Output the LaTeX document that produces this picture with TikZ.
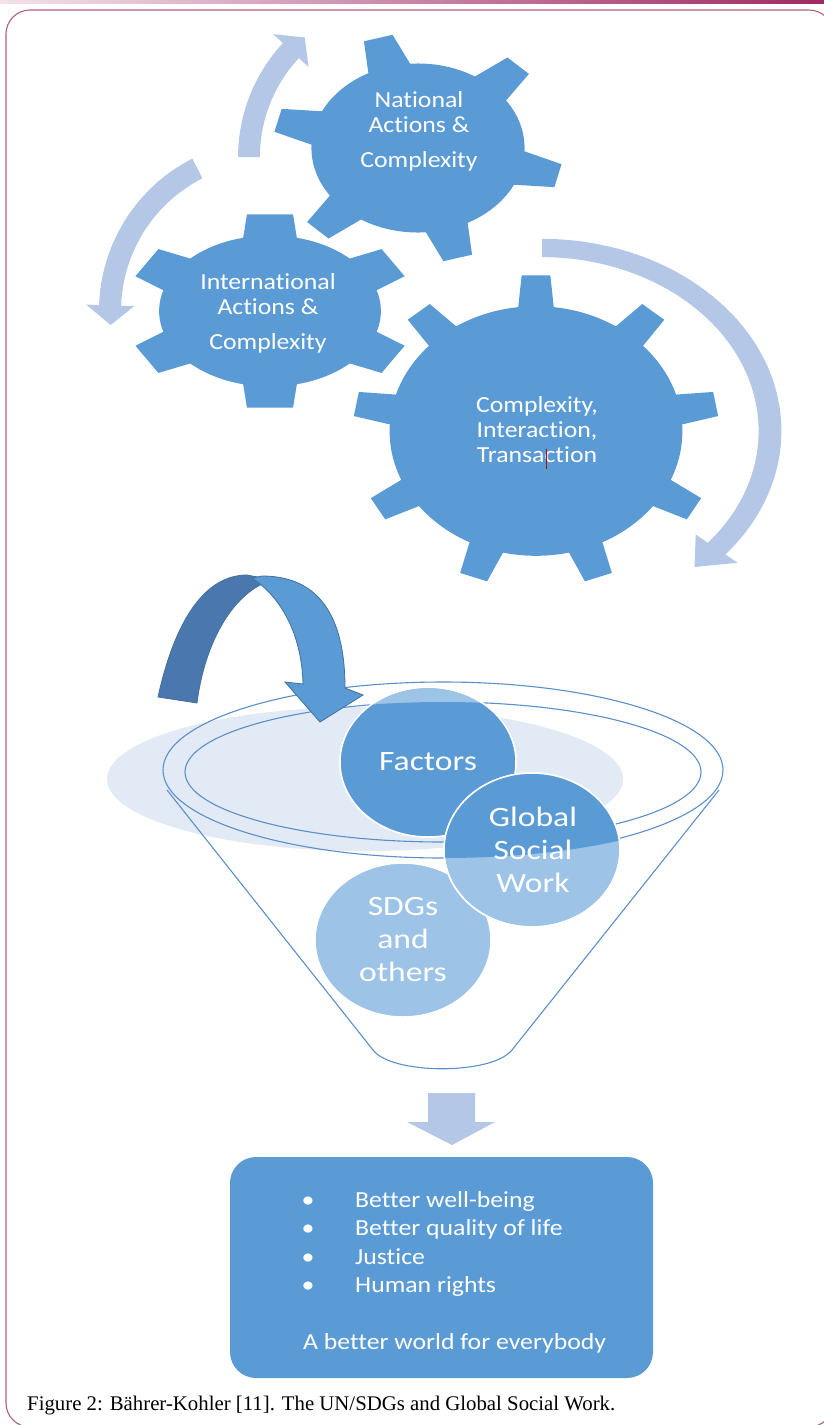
\documentclass[tikz,border=0pt]{standalone}
\usepackage{fontspec}
\setmainfont{Carlito}[Ligatures=NoCommon]
\newfontfamily\gearfont{Carlito}[FakeStretch=1.12, Ligatures=NoCommon]
\newfontfamily\ballfont{Carlito}[FakeStretch=1.2, Ligatures=NoCommon]
\newfontfamily\capfont{Liberation Serif}
\usetikzlibrary{positioning}

\definecolor{gearblue}{HTML}{5B9BD5}
\definecolor{arrowlight}{HTML}{B4C7E7}
\definecolor{ringfill}{HTML}{E2EAF5}
\definecolor{balllight}{HTML}{9DC3E6}
\definecolor{funnelline}{HTML}{5B8FC9}
\definecolor{bendback}{HTML}{4A78AE}
\definecolor{bendline}{HTML}{41719C}
\definecolor{framecol}{HTML}{B35C87}
\definecolor{stripeL}{HTML}{F3E2EA}
\definecolor{stripeR}{HTML}{9E2A62}

% gear: center, x radius, y radius, teeth, first tooth angle, body ratio, tip half angle, root half angle
\newcommand{\gearwheel}[8]{%
  \begin{scope}[shift={#1}, xscale=#2, yscale=#3]
    \fill[gearblue] (0,0) circle (#6);
    \foreach \k in {1,...,#4}{
      \pgfmathsetmacro{\a}{#5+(\k-1)*360/#4}
      \fill[gearblue] ({\a-#8}:{#6-0.05}) -- ({\a-#7}:1) -- ({\a+#7}:1) -- ({\a+#8}:{#6-0.05}) -- cycle;
    }
  \end{scope}}

% ring arrow: center, x radius, y radius, tail angle, head angle, tip angle, half band, half head
\newcommand{\ringarrow}[8]{%
  \begin{scope}[shift={#1}, xscale=#2, yscale=#3]
    \fill[arrowlight] (#4:{1+#7}) arc[start angle=#4, end angle=#5, radius={1+#7}]
      -- (#5:{1+#8}) -- (#6:1) -- (#5:{1-#8}) -- (#5:{1-#7})
      arc[start angle=#5, end angle=#4, radius={1-#7}] -- cycle;
  \end{scope}}

\tikzset{
  gtxt/.style={text=white, font=\gearfont\fontsize{23}{25}\selectfont, align=center, inner sep=0pt},
  ctxt/.style={text=white, font=\ballfont\fontsize{28}{33}\selectfont, align=center, inner sep=0pt},
  btxt/.style={text=white, font=\gearfont\fontsize{23}{28}\selectfont, inner sep=0pt},
  ball/.style={fill=balllight, draw=white, line width=1.5pt},
}

\begin{document}
\begin{tikzpicture}[x=1pt, y=1pt]
\useasboundingbox (0,0) rectangle (824,-1425);

% page stripe and frame
\shade[left color=stripeL, right color=stripeR] (0,0) rectangle (824,-3);
\draw[framecol, line width=1.1pt, rounded corners=24pt] (6,-10) rectangle (833,-1427);

% arrows round the gears
\ringarrow{(405,-157)}{156}{156}{180}{137}{130}{0.07}{0.155}
\ringarrow{(270,-311)}{160}{160}{117}{178}{185}{0.069}{0.15}
\ringarrow{(542,-431)}{228}{183}{90}{-40}{-48}{0.05}{0.12}

% the three gears
\gearwheel{(418,-148)}{145}{115}{6}{46}{0.735}{5.9}{13.4}
\gearwheel{(270,-311)}{144}{98}{6}{30}{0.77}{9.2}{15.5}
\gearwheel{(536,-431)}{183}{156}{9}{90}{0.8}{4.5}{7.8}

\node[gtxt] (national) at (419,-131) {National\\Actions \&\\[10pt]Complexity};
\node[gtxt] (international) at (268,-313) {International\\Actions \&\\[10pt]Complexity};
\node[gtxt, text depth=0pt] (core) at (537,-430) {Complexity,\\Interaction,\\Transaction};
\draw[red!75!black, line width=0.8pt] (546,-449) -- (546,-469);

% funnel
\fill[ringfill] (365,-779) ellipse [x radius=258, y radius=72];
\draw[funnelline, line width=1.1pt] (443,-770) ellipse [x radius=280, y radius=88];
\draw[funnelline, line width=1.1pt] (443,-772) ellipse [x radius=258, y radius=70];
\draw[funnelline, line width=1.1pt] (167,-790) -- (373,-1050)
  .. controls (392,-1075) and (492,-1075) .. (512,-1050) -- (719,-790);

% bent arrow into the funnel
\fill[bendback, draw=bendline, line width=0.8pt] (158,-697) .. controls (175,-620) and (205,-575) .. (247,-575)
  -- (273,-580) .. controls (235,-590) and (205,-640) .. (197,-703) -- cycle;
\fill[gearblue, draw=bendline, line width=0.8pt] (262,-576) .. controls (318,-576) and (345,-615) .. (345,-688)
  -- (363,-695) -- (320,-722) -- (285,-682) -- (303,-684)
  .. controls (302,-640) and (285,-600) .. (252,-578) -- cycle;

% balls in the funnel
\fill[ball] (428,-762) ellipse [x radius=88, y radius=75];
\begin{scope}
  \clip (443,-780) ellipse [x radius=280, y radius=78];
  \fill[gearblue] (428,-762) ellipse [x radius=88, y radius=75];
\end{scope}
\draw[white, line width=1.5pt] (428,-762) ellipse [x radius=88, y radius=75];
\fill[ball] (403,-940) ellipse [x radius=88, y radius=77];
\fill[ball] (532,-850) ellipse [x radius=88, y radius=77];
\begin{scope}
  \clip (443,-780) ellipse [x radius=280, y radius=78];
  \fill[gearblue] (532,-850) ellipse [x radius=88, y radius=77];
\end{scope}
\draw[white, line width=1.5pt] (532,-850) ellipse [x radius=88, y radius=77];

\node[ctxt] (factors) at (428,-762) {Factors};
\node[ctxt] (gsw) at (533,-850) {Global\\Social\\Work};
\node[ctxt] (sdgs) at (403,-940) {SDGs\\and\\others};

% down arrow and outcome box
\fill[arrowlight] (428,-1093) -- (475,-1093) -- (475,-1122) -- (495,-1122) -- (452,-1145)
  -- (407,-1122) -- (428,-1122) -- cycle;
\node[fill=gearblue, rounded corners=26pt, minimum width=423pt, minimum height=221pt, inner sep=0pt]
  (outcome) at (441.5,-1267.5) {};

\foreach \txt [count=\i] in {Better well-being, Better quality of life, Justice, Human rights}{
  \node[btxt, anchor=base west] (item\i) at (355,{-1207-(\i-1)*28.5}) {\txt};
  \node[btxt, anchor=base] (dot\i) at (308,{-1207-(\i-1)*28.5}) {•};
}
\node[btxt, anchor=base west] (world) at (303,-1349) {A better world for everybody};

% caption
\node[anchor=base west, inner sep=0pt, font=\capfont\fontsize{20.8}{24}\selectfont] (caption) at (27,-1410)
  {Figure 2: Bährer-Kohler [11]. The UN/SDGs and Global Social Work.};

\end{tikzpicture}
\end{document}
